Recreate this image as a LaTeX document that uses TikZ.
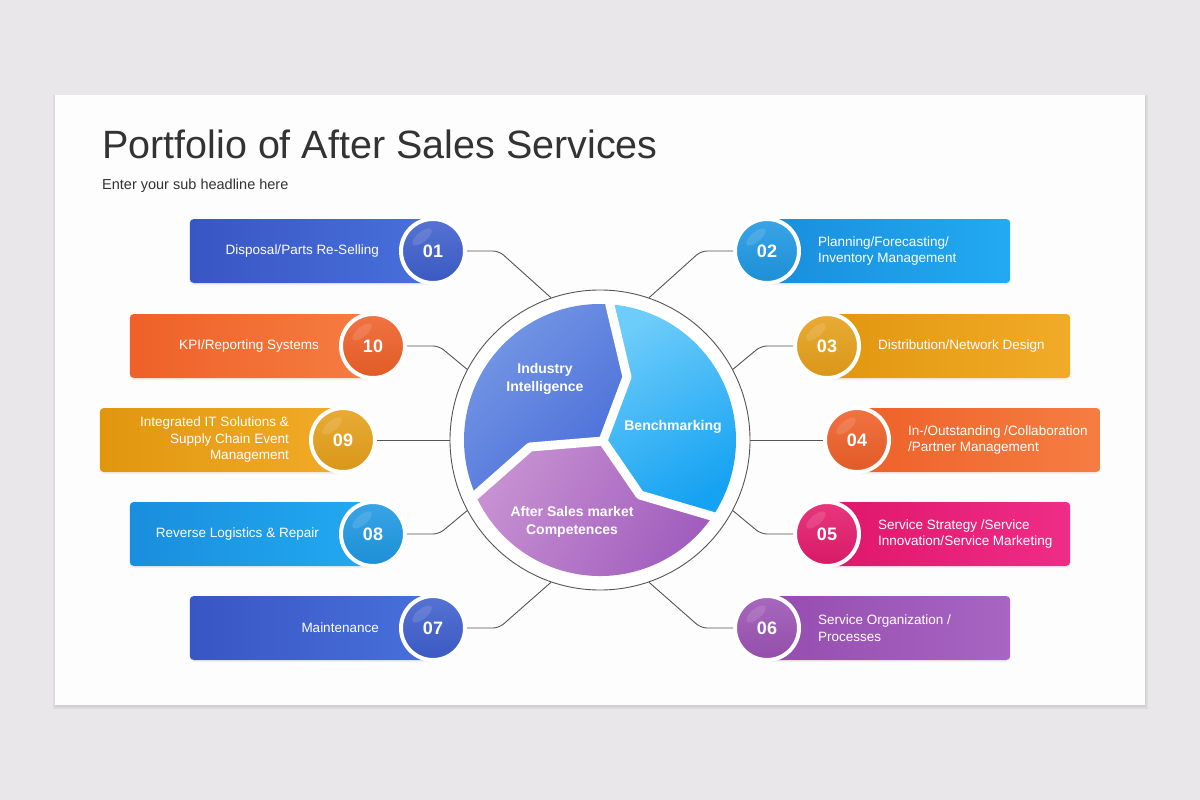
\documentclass[tikz,border=0pt]{standalone}
\usepackage{fontspec}
\setmainfont{Liberation Sans}
\usetikzlibrary{shadows}

\definecolor{pagegray}{HTML}{E9E7E9}
\definecolor{slidewhite}{HTML}{FDFDFD}
\definecolor{titlegray}{HTML}{333333}
\definecolor{linkgray}{HTML}{555555}
\definecolor{blueA}{HTML}{3856C4}
\definecolor{blueB}{HTML}{4870DC}
\definecolor{blueBall}{HTML}{3E5FCD}
\definecolor{cyanA}{HTML}{1A8EDC}
\definecolor{cyanB}{HTML}{22AAF1}
\definecolor{cyanBall}{HTML}{1E98E3}
\definecolor{goldA}{HTML}{E1960F}
\definecolor{goldB}{HTML}{F2AB28}
\definecolor{goldBall}{HTML}{E6A01A}
\definecolor{orangeA}{HTML}{EE6129}
\definecolor{orangeB}{HTML}{F67D42}
\definecolor{orangeBall}{HTML}{EF6028}
\definecolor{pinkA}{HTML}{E0176A}
\definecolor{pinkB}{HTML}{EF2C88}
\definecolor{pinkBall}{HTML}{E51B6D}
\definecolor{purpleA}{HTML}{954DAF}
\definecolor{purpleB}{HTML}{A865C2}
\definecolor{purpleBall}{HTML}{9C53B5}
\definecolor{indLight}{HTML}{7698E5}
\definecolor{indDark}{HTML}{4A6ED9}
\definecolor{benchLight}{HTML}{6DCCFA}
\definecolor{benchDark}{HTML}{15A2F2}
\definecolor{compLight}{HTML}{C690D1}
\definecolor{compDark}{HTML}{A05CBD}

\begin{document}
\begin{tikzpicture}[x=1pt, y=-1pt,
    itembox/.style={rounded corners=4pt, minimum width=243pt, minimum height=64pt, inner sep=0pt,
      drop shadow={opacity=0.1, shadow xshift=0pt, shadow yshift=-2pt}},
    numball/.style={circle, draw=white, line width=4pt, minimum size=64pt, inner sep=0pt,
      text=white, font=\fontsize{18}{18}\selectfont\bfseries,
      drop shadow={opacity=0.1, shadow xshift=1pt, shadow yshift=-1.5pt},
      path picture={\fill[white, opacity=0.12] ([shift={(-11pt,14pt)}]path picture bounding box.center)
        ellipse [x radius=12pt, y radius=5pt, rotate=40];}},
    itemtext/.style={text=white, font=\fontsize{13.5}{16.5}\selectfont, inner sep=0pt},
    segtext/.style={text=white, font=\fontsize{14}{18}\selectfont\bfseries, align=center, inner sep=0pt},
    link/.style={draw=linkgray, line width=0.9pt, rounded corners=6pt}]

  \useasboundingbox (0,0) rectangle (1200,800);
  \fill[pagegray] (0,0) rectangle (1200,800);
  \fill[black, opacity=0.05] (53,95) rectangle (1148,709);
  \fill[black, opacity=0.05] (55,96) rectangle (1146,707);
  \fill[slidewhite] (55,95) rectangle (1145,705);

  \node[anchor=base west, inner sep=0pt, text=titlegray, font=\fontsize{39.5}{44}\selectfont] (title) at (102,158) {Portfolio of After Sales Services};
  \node[anchor=base west, inner sep=0pt, text=titlegray, font=\fontsize{14.5}{17}\selectfont] (subtitle) at (102,189) {Enter your sub headline here};

  % left side
  \node[itembox, anchor=east, left color=blueA, right color=blueB] (b01) at (433,251) {};
  \node[numball, top color=blueBall!88!white, bottom color=blueBall!94!black] (n01) at (433,251) {01};
  \node[itemtext, anchor=east, align=right] (t01) at (379,251) {Disposal/Parts Re-Selling};

  \node[itembox, anchor=east, left color=orangeA, right color=orangeB] (b10) at (373,346) {};
  \node[numball, top color=orangeBall!88!white, bottom color=orangeBall!94!black] (n10) at (373,346) {10};
  \node[itemtext, anchor=east, align=right] (t10) at (319,346) {KPI/Reporting Systems};

  \node[itembox, anchor=east, left color=goldA, right color=goldB] (b09) at (343,440) {};
  \node[numball, top color=goldBall!88!white, bottom color=goldBall!94!black] (n09) at (343,440) {09};
  \node[itemtext, anchor=east, align=right] (t09) at (289,440) {Integrated IT Solutions \&\\Supply Chain Event\\Management};

  \node[itembox, anchor=east, left color=cyanA, right color=cyanB] (b08) at (373,534) {};
  \node[numball, top color=cyanBall!88!white, bottom color=cyanBall!94!black] (n08) at (373,534) {08};
  \node[itemtext, anchor=east, align=right] (t08) at (319,534) {Reverse Logistics \& Repair};

  \node[itembox, anchor=east, left color=blueA, right color=blueB] (b07) at (433,628) {};
  \node[numball, top color=blueBall!88!white, bottom color=blueBall!94!black] (n07) at (433,628) {07};
  \node[itemtext, anchor=east, align=right] (t07) at (379,628) {Maintenance};

  % right side
  \node[itembox, anchor=west, left color=cyanA, right color=cyanB] (b02) at (767,251) {};
  \node[numball, top color=cyanBall!88!white, bottom color=cyanBall!94!black] (n02) at (767,251) {02};
  \node[itemtext, anchor=west, align=left] (t02) at (818,251) {Planning/Forecasting/\\Inventory Management};

  \node[itembox, anchor=west, left color=goldA, right color=goldB] (b03) at (827,346) {};
  \node[numball, top color=goldBall!88!white, bottom color=goldBall!94!black] (n03) at (827,346) {03};
  \node[itemtext, anchor=west, align=left] (t03) at (878,346) {Distribution/Network Design};

  \node[itembox, anchor=west, left color=orangeA, right color=orangeB] (b04) at (857,440) {};
  \node[numball, top color=orangeBall!88!white, bottom color=orangeBall!94!black] (n04) at (857,440) {04};
  \node[itemtext, anchor=west, align=left] (t04) at (908,440) {In-/Outstanding /Collaboration\\/Partner Management};

  \node[itembox, anchor=west, left color=pinkA, right color=pinkB] (b05) at (827,534) {};
  \node[numball, top color=pinkBall!88!white, bottom color=pinkBall!94!black] (n05) at (827,534) {05};
  \node[itemtext, anchor=west, align=left] (t05) at (878,534) {Service Strategy /Service\\Innovation/Service Marketing};

  \node[itembox, anchor=west, left color=purpleA, right color=purpleB] (b06) at (767,628) {};
  \node[numball, top color=purpleBall!88!white, bottom color=purpleBall!94!black] (n06) at (767,628) {06};
  \node[itemtext, anchor=west, align=left] (t06) at (818,628) {Service Organization /\\Processes};

  % centre
  \node[circle, draw=linkgray, line width=0.9pt, fill=white, minimum size=300pt, inner sep=0pt] (ring) at (600,440) {};

  \begin{scope}[shift={(600,440)}, y=1pt]
    \coordinate (c) at (3,-1);
    \coordinate (k1) at (27,63);
    \coordinate (k2) at (-70,-7);
    \coordinate (k3) at (40,-55);

    \shade[top color=indLight, bottom color=indDark, shading angle=45]
      (c) -- (k1) -- (86:136) arc[start angle=86, end angle=204, radius=136] -- (k2) -- cycle;
    \shade[top color=benchLight, bottom color=benchDark, shading angle=30]
      (c) -- (k1) -- (86:136) arc[start angle=86, end angle=-34, radius=136] -- (k3) -- cycle;
    \shade[top color=compLight, bottom color=compDark, shading angle=60]
      (c) -- (k2) -- (204:136) arc[start angle=204, end angle=326, radius=136] -- (k3) -- cycle;

    \draw[white, line width=9pt, line join=round] (86:137) -- (k1) -- (c) -- (k2) -- (204:137);
    \draw[white, line width=9pt, line join=round] (c) -- (k3) -- (-34:137);

    \node[segtext] (ind) at (-55,61) {Industry\\Intelligence};
    \node[segtext] (bench) at (73,13) {Benchmarking};
    \node[segtext] (comp) at (-28,-82) {After Sales market\\Competences};
  \end{scope}

  % connectors
  \draw[link] (n01.east) -- ++(32,0) -- (ring.109);
  \draw[link] (n10.east) -- ++(32,0) -- (ring.152);
  \draw[link] (n09.east) -- (ring.180);
  \draw[link] (n08.east) -- ++(32,0) -- (ring.208);
  \draw[link] (n07.east) -- ++(32,0) -- (ring.251);
  \draw[link] (n02.west) -- ++(-32,0) -- (ring.71);
  \draw[link] (n03.west) -- ++(-32,0) -- (ring.28);
  \draw[link] (n04.west) -- (ring.0);
  \draw[link] (n05.west) -- ++(-32,0) -- (ring.-28);
  \draw[link] (n06.west) -- ++(-32,0) -- (ring.-71);
\end{tikzpicture}
\end{document}
